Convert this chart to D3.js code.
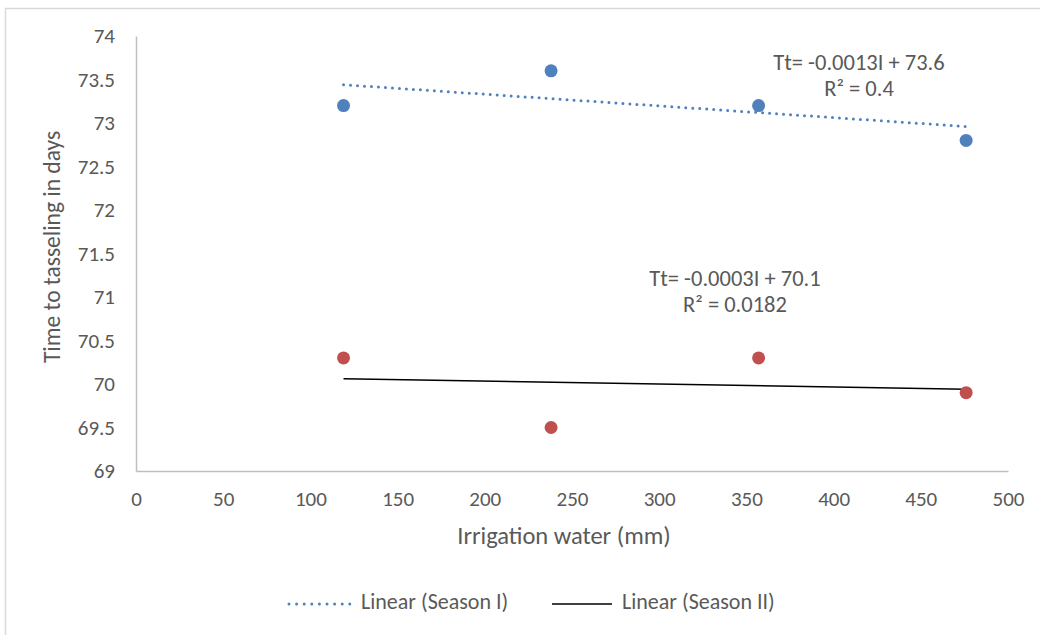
<!DOCTYPE html>
<meta charset="utf-8">
<script src="https://d3js.org/d3.v7.min.js"></script>
<style>
  body { margin: 0; background: #fff; }
  text { font-family: Carlito, Lato, "Liberation Sans", sans-serif; fill: #595959; }
</style>
<div id="chart"></div>
<script>

// irrigation levels (mm) and time to tasseling (days)
var irrigation = [119, 238, 357, 476];
var season1 = [73.2, 73.6, 73.2, 72.8];
var season2 = [70.3, 69.5, 70.3, 69.9];

var xTicks = [0, 50, 100, 150, 200, 250, 300, 350, 400, 450, 500];
var yTicks = [69, 69.5, 70, 70.5, 71, 71.5, 72, 72.5, 73, 73.5, 74];

var eq1 = ["Tt= -0.0013I + 73.6", "R\u00b2 = 0.4"];
var eq2 = ["Tt= -0.0003I + 70.1", "R\u00b2 = 0.0182"];
var legendLabels = ["Linear (Season I)", "Linear (Season II)"];

var W = 1040, H = 635;
var margin = {top: 36, right: 32, bottom: 164, left: 136},
    width = W - margin.left - margin.right,
    height = H - margin.top - margin.bottom;

var svg = d3.select("#chart").append("svg")
    .attr("width", W).attr("height", H);

// outer chart border
svg.append("rect")
  .attr("x", 5.5).attr("y", 8.5)
  .attr("width", W).attr("height", H)
  .attr("fill", "none").attr("stroke", "#d9d9d9").attr("stroke-width", 1.5);

var g = svg.append("g")
  .attr("transform", "translate(" + margin.left + "," + margin.top + ")");

var x = d3.scaleLinear().domain([0, 500]).range([0, width]);
var y = d3.scaleLinear().domain([69, 74]).range([height, 0]);

// axes
var xAxis = g.append("g")
  .attr("transform", "translate(0," + height + ")")
  .call(d3.axisBottom(x).tickValues(xTicks).tickSize(0).tickPadding(20).tickFormat(d3.format("d")));
var yAxis = g.append("g")
  .call(d3.axisLeft(y).tickValues(yTicks).tickSize(0).tickPadding(21).tickFormat(function(d) { return d; }));

[xAxis, yAxis].forEach(function(a) {
  a.select(".domain").attr("stroke", "#bfbfbf").attr("stroke-width", 1.5);
  a.selectAll("text").attr("font-size", 21).attr("font-family", null).style("fill", "#595959");
});

// axis titles
svg.append("text")
  .attr("x", margin.left + x(250) - 8).attr("y", 538)
  .attr("text-anchor", "middle").attr("dominant-baseline", "middle")
  .attr("font-size", 24.5)
  .text("Irrigation water (mm)");

svg.append("text")
  .attr("transform", "translate(54,247) rotate(-90)")
  .attr("text-anchor", "middle").attr("dominant-baseline", "middle")
  .attr("font-size", 23.5)
  .text("Time to tasseling in days");

// least squares fit
function fit(xs, ys) {
  var mx = d3.mean(xs), my = d3.mean(ys);
  var num = d3.sum(xs, function(v, i) { return (v - mx) * (ys[i] - my); });
  var den = d3.sum(xs, function(v) { return (v - mx) * (v - mx); });
  var b = num / den;
  return {slope: b, intercept: my - b * mx};
}

var series = [
  {values: season1, color: "#4f81bd", dash: "0,7", width: 3, cap: "round", line: "none"},
  {values: season2, color: "#c0504d", dash: null, width: 1.5, cap: "butt", line: "#000"}
];

series.forEach(function(s) {
  var f = fit(irrigation, s.values);
  var x0 = d3.min(irrigation), x1 = d3.max(irrigation);
  var pts = [[x0, f.intercept + f.slope * x0], [x1, f.intercept + f.slope * x1]];
  g.append("path")
    .datum(pts)
    .attr("d", d3.line().x(function(d) { return x(d[0]); }).y(function(d) { return y(d[1]); }))
    .attr("fill", "none")
    .attr("stroke", s.line === "none" ? s.color : s.line)
    .attr("stroke-width", s.width)
    .attr("stroke-linecap", s.cap)
    .attr("stroke-dasharray", s.dash);
});

series.forEach(function(s) {
  g.selectAll(null)
    .data(s.values)
    .enter().append("circle")
    .attr("cx", function(d, i) { return x(irrigation[i]); })
    .attr("cy", function(d) { return y(d); })
    .attr("r", 6.5)
    .attr("fill", s.color);
});

// trendline equations
function equation(lines, cx, cy) {
  svg.append("text")
    .attr("text-anchor", "middle")
    .attr("font-size", 22.5)
    .selectAll("tspan")
    .data(lines)
    .enter().append("tspan")
    .attr("x", cx)
    .attr("y", function(d, i) { return cy + i * 26; })
    .attr("dominant-baseline", "middle")
    .text(function(d) { return d; });
}
equation(eq1, 859, 65);
equation(eq2, 735, 281);

// legend
var legend = svg.append("g").attr("transform", "translate(0,604)");
legend.append("line")
  .attr("x1", 289).attr("x2", 350).attr("y1", 0).attr("y2", 0)
  .attr("stroke", "#4f81bd").attr("stroke-width", 3)
  .attr("stroke-linecap", "round").attr("stroke-dasharray", "0,7.6");
legend.append("text")
  .attr("x", 361).attr("y", 0).attr("dominant-baseline", "middle")
  .attr("font-size", 22).text(legendLabels[0]);
legend.append("line")
  .attr("x1", 552).attr("x2", 612).attr("y1", 0).attr("y2", 0)
  .attr("stroke", "#000").attr("stroke-width", 1.5);
legend.append("text")
  .attr("x", 622).attr("y", 0).attr("dominant-baseline", "middle")
  .attr("font-size", 22).text(legendLabels[1]);

</script>
